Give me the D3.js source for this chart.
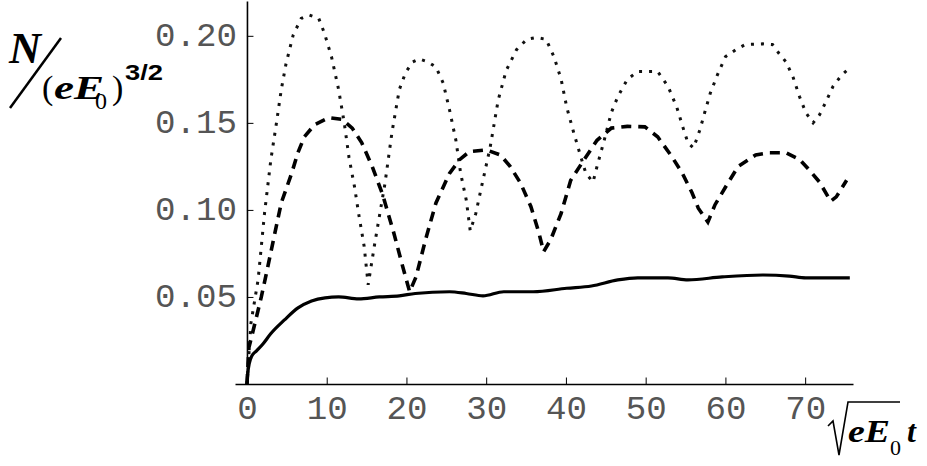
<!DOCTYPE html>
<html><head><meta charset="utf-8">
<script src="https://cdn.jsdelivr.net/npm/d3@7"></script>
<style>body{margin:0;background:#fff}svg{display:block}</style>
</head><body>
<svg id="chart" width="927" height="466"></svg>
<script>
// ---- data ----
const tSolid = [0, 0.1, 0.3, 0.6, 1.2, 2.0, 3.0, 4.7, 6.4, 8.1, 9.8, 11.5, 14, 16.6, 19.1, 21.1, 25.4, 27.5, 29.6, 32.2, 35.9, 40.1, 43.2, 46.5, 49, 52.8, 55.3, 59.6, 64.7, 68, 70.1, 75.6];
const nSolid = [0, 0.006, 0.012, 0.016, 0.019, 0.023, 0.029, 0.0368, 0.0437, 0.0477, 0.0495, 0.05, 0.0489, 0.05, 0.0506, 0.052, 0.053, 0.052, 0.0506, 0.053, 0.053, 0.055, 0.0563, 0.0598, 0.061, 0.061, 0.0598, 0.0615, 0.0626, 0.062, 0.061, 0.061];

const tDashed = [0, 0.25, 0.9, 1.8, 2.6, 3.4, 4.3, 5.6, 6.4, 7.2, 8.5, 10.3, 11.9, 13.2, 14.4, 15.7, 17, 18.4, 19.5, 20.4, 21.2, 22.4, 23.7, 25.4, 26.7, 27.9, 30, 31.8, 33, 34.3, 35.6, 36.6, 37.2, 38.1, 39.4, 40.6, 42.3, 43.9, 45.7, 47.7, 49.9, 51.5, 53.3, 54.6, 55.8, 56.6, 57.8, 58.7, 60, 61.6, 63.8, 65.5, 67.6, 69.3, 70.5, 71.8, 73.2, 73.9, 75.2];
const nDashed = [0, 0.021, 0.033, 0.05, 0.067, 0.0845, 0.104, 0.121, 0.133, 0.142, 0.149, 0.153, 0.152, 0.147, 0.1385, 0.125, 0.109, 0.087, 0.068, 0.053, 0.0615, 0.083, 0.104, 0.121, 0.129, 0.1335, 0.1345, 0.1315, 0.125, 0.1155, 0.102, 0.087, 0.076, 0.083, 0.098, 0.117, 0.129, 0.140, 0.147, 0.148, 0.1477, 0.142, 0.1305, 0.121, 0.11, 0.101, 0.093, 0.103, 0.113, 0.125, 0.1316, 0.1328, 0.1328, 0.129, 0.123, 0.116, 0.105, 0.1075, 0.117];

const tDotted = [0, 0.5, 1.4, 2.2, 3.0, 3.7, 4.3, 4.9, 5.8, 6.8, 7.8, 9.0, 9.7, 10.6, 11.5, 12.2, 12.8, 13.5, 14.0, 14.7, 15.2, 16.0, 17.3, 18.2, 19.1, 19.9, 20.8, 21.6, 22.7, 23.7, 24.6, 25.4, 26.2, 26.8, 27.5, 28.0, 28.7, 29.4, 30.5, 31.5, 32.5, 33.8, 35.1, 36.3, 37.5, 38.5, 39.4, 40.1, 41.0, 41.9, 42.5, 43.4, 43.9, 44.8, 45.7, 46.5, 47.7, 49.0, 50.3, 51.5, 52.8, 53.9, 54.7, 55.3, 56.0, 56.8, 57.5, 58.1, 59.0, 60.0, 61.3, 62.5, 64.7, 65.9, 66.7, 67.6, 68.5, 69.3, 70.1, 71.0, 71.8, 72.7, 73.5, 74.6, 75.6];
const nDotted = [0, 0.035, 0.06, 0.098, 0.129, 0.15, 0.169, 0.184, 0.2005, 0.210, 0.212, 0.210, 0.2017, 0.188, 0.169, 0.15, 0.13, 0.113, 0.098, 0.079, 0.057, 0.08, 0.115, 0.145, 0.169, 0.179, 0.185, 0.1867, 0.185, 0.182, 0.173, 0.1575, 0.140, 0.121, 0.1057, 0.088, 0.098, 0.113, 0.136, 0.163, 0.180, 0.192, 0.198, 0.199, 0.198, 0.188, 0.175, 0.159, 0.144, 0.130, 0.121, 0.116, 0.125, 0.140, 0.156, 0.165, 0.175, 0.1795, 0.1795, 0.1795, 0.171, 0.159, 0.147, 0.1385, 0.1356, 0.146, 0.1575, 0.167, 0.1776, 0.188, 0.192, 0.195, 0.1954, 0.195, 0.190, 0.185, 0.176, 0.165, 0.1557, 0.150, 0.1546, 0.163, 0.171, 0.1776, 0.1816];

const xMajorTicks = [0, 10, 20, 30, 40, 50, 60, 70];
const xMinorTicks = d3.range(0, 77, 2);
const yMajorTicks = [0.05, 0.10, 0.15, 0.20];
const yMinorTicks = d3.range(1, 23).map(d => d / 100);

// ---- scales ----
const svg = d3.select("#chart");
const x = d3.scaleLinear().domain([-1.5, 76]).range([235, 853]);
const y = d3.scaleLinear().domain([0, 0.22]).range([384, 1]);

const labelFont = "'Liberation Mono', 'Courier New', monospace";

// x axis
const gx = svg.append("g").attr("transform", `translate(0,${y(0)})`);
gx.call(d3.axisBottom(x).tickValues(xMinorTicks).tickSizeInner(-3.5).tickSizeOuter(0).tickFormat(""));
gx.call(d3.axisBottom(x).tickValues(xMajorTicks).tickSizeInner(-6.5).tickSizeOuter(0).tickPadding(12).tickFormat(d3.format("d")));
// y axis
const gy = svg.append("g").attr("transform", `translate(${x(0)},0)`);
gy.call(d3.axisLeft(y).tickValues(yMinorTicks).tickSizeInner(-3.5).tickSizeOuter(0).tickFormat(""));
gy.call(d3.axisLeft(y).tickValues(yMajorTicks).tickSizeInner(-6.5).tickSizeOuter(0).tickPadding(10).tickFormat(d3.format(".2f")));

svg.selectAll(".domain").attr("stroke", "#000").attr("stroke-width", 1.6);
svg.selectAll(".tick line").attr("stroke", "#000").attr("stroke-width", 1);
svg.selectAll(".tick text")
  .attr("font-family", labelFont).attr("font-size", 33).attr("fill", "#555")
  .each(function () {
    const s = d3.select(this);
    s.attr("textLength", s.text().length * 20.5).attr("lengthAdjust", "spacingAndGlyphs");
  });
gy.selectAll(".tick text").attr("dy", "0.3em");

// ---- curves ----
const line = d3.line().x(d => x(d[0])).y(d => y(d[1])).curve(d3.curveLinear);
const smooth = d3.line().x(d => x(d[0])).y(d => y(d[1])).curve(d3.curveMonotoneX);
const mk = (ts, ns) => ts.map((t, i) => [t, ns[i]]);

svg.append("path").datum(mk(tDotted, nDotted)).attr("d", line)
  .attr("fill", "none").attr("stroke", "#111").attr("stroke-width", 3)
  .attr("stroke-dasharray", "3,7");
svg.append("path").datum(mk(tDashed, nDashed)).attr("d", line)
  .attr("fill", "none").attr("stroke", "#000").attr("stroke-width", 3.6)
  .attr("stroke-dasharray", "10,7");
svg.append("path").datum(mk(tSolid, nSolid)).attr("d", smooth)
  .attr("fill", "none").attr("stroke", "#000").attr("stroke-width", 3.2)
  .attr("stroke-linejoin", "round");

// ---- y axis label: N / (eE0)^{3/2} ----
const serif = "'Liberation Serif', 'Times New Roman', serif";
const yl = svg.append("g");
yl.append("text").attr("x", 9).attr("y", 63).attr("font-family", serif)
  .attr("font-size", 44).attr("font-weight", "bold").attr("font-style", "italic")
  .attr("textLength", 32).attr("lengthAdjust", "spacingAndGlyphs").text("N");
yl.append("line").attr("x1", 10).attr("y1", 108).attr("x2", 61).attr("y2", 38)
  .attr("stroke", "#000").attr("stroke-width", 2.5);
yl.append("text").attr("x", 42).attr("y", 99).attr("font-family", serif)
  .attr("font-size", 34).text("(");
yl.append("text").attr("x", 54).attr("y", 99).attr("font-family", serif)
  .attr("font-size", 33).attr("font-weight", "bold").attr("font-style", "italic")
  .attr("textLength", 50).attr("lengthAdjust", "spacingAndGlyphs").text("eE");
yl.append("text").attr("x", 95).attr("y", 109).attr("font-family", serif)
  .attr("font-size", 24).text("0");
yl.append("text").attr("x", 112).attr("y", 99).attr("font-family", serif)
  .attr("font-size", 34).text(")");
yl.append("text").attr("x", 125).attr("y", 80).attr("font-family", "'Liberation Sans', Arial, sans-serif")
  .attr("font-size", 22).attr("font-weight", "bold")
  .attr("textLength", 38).attr("lengthAdjust", "spacingAndGlyphs").text("3/2");

// ---- x axis label: sqrt(eE0) t ----
const xl = svg.append("g");
xl.append("path").attr("d", "M828,426 L833,421 L839,455 L848,402 L900,402")
  .attr("fill", "none").attr("stroke", "#000").attr("stroke-width", 1.6);
xl.append("text").attr("x", 848).attr("y", 442).attr("font-family", serif)
  .attr("font-size", 32).attr("font-weight", "bold").attr("font-style", "italic")
  .attr("textLength", 42).attr("lengthAdjust", "spacingAndGlyphs").text("eE");
xl.append("text").attr("x", 890).attr("y", 455).attr("font-family", serif)
  .attr("font-size", 22).text("0");
xl.append("text").attr("x", 907).attr("y", 442).attr("font-family", serif)
  .attr("font-size", 32).attr("font-weight", "bold").attr("font-style", "italic").text("t");
</script>
</body></html>
